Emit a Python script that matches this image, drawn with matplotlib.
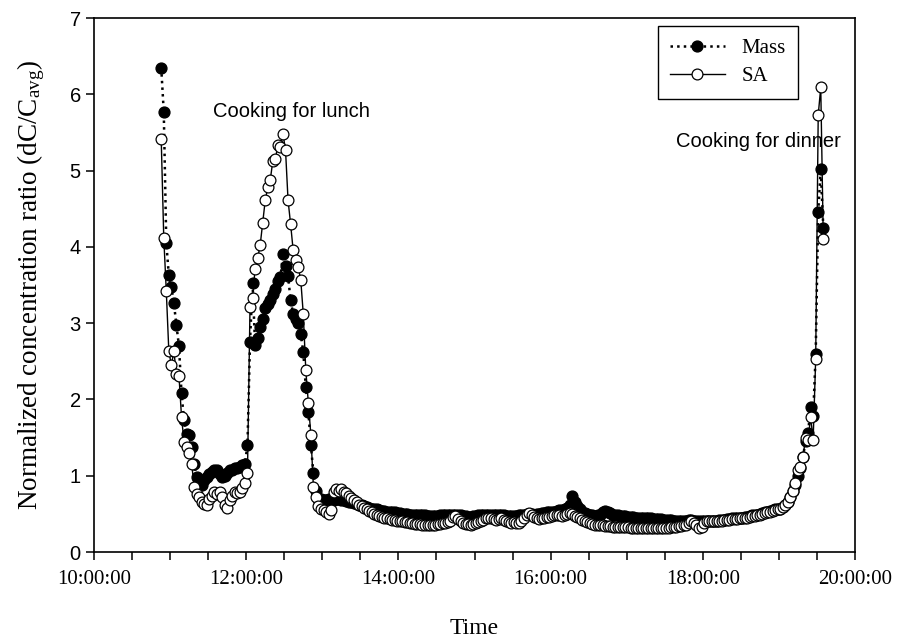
import matplotlib
matplotlib.use("Agg")
import matplotlib.pyplot as plt
import matplotlib.dates as mdates
import pandas as pd

plt.rcParams['mathtext.fontset'] = 'custom'
plt.rcParams['mathtext.rm'] = 'Liberation Serif'
plt.rcParams['mathtext.it'] = 'Liberation Serif:italic'

# sampling: every 2 min starting 10:53
start_time = "2000-01-01 10:53"
step = "2min"

# normalized mass concentration (dC/Cavg)
mass = [
    6.35, 5.77, 4.05, 3.63, 3.47, 3.26, 2.97, 2.70, 2.08, 1.73,
    1.55, 1.53, 1.37, 1.16, 0.98, 0.90, 0.88, 0.95, 0.98, 1.02,
    1.05, 1.07, 1.07, 1.02, 0.98, 1.00, 1.03, 1.07, 1.08, 1.10,
    1.10, 1.12, 1.14, 1.16,
    # lunch
    1.40, 2.75, 3.53, 2.72, 2.80, 2.95, 3.05, 3.20, 3.25, 3.30,
    3.38, 3.45, 3.55, 3.60, 3.91, 3.75, 3.62, 3.30, 3.12, 3.05,
    3.00, 2.86, 2.62, 2.16, 1.84, 1.40, 1.03, 0.80, 0.70,
    # afternoon
    0.70, 0.68, 0.68, 0.70, 0.69, 0.68, 0.70, 0.69, 0.68, 0.68,
    0.67, 0.66, 0.65, 0.64, 0.63, 0.62, 0.61, 0.60, 0.59, 0.58,
    0.57, 0.56, 0.56, 0.55, 0.54, 0.54, 0.53, 0.53, 0.52, 0.52,
    0.51, 0.51, 0.50, 0.50, 0.50, 0.49, 0.49, 0.49, 0.48, 0.48,
    0.48, 0.48, 0.47, 0.47, 0.47, 0.47, 0.47, 0.48, 0.48, 0.48,
    0.48, 0.48, 0.49, 0.49, 0.48, 0.48, 0.47, 0.47, 0.46, 0.46,
    0.47, 0.47, 0.48, 0.48, 0.48, 0.49, 0.49, 0.49, 0.48, 0.48,
    0.48, 0.48, 0.48, 0.47, 0.47, 0.47, 0.47, 0.47, 0.48, 0.48,
    0.49, 0.50, 0.50, 0.50, 0.49, 0.50, 0.50, 0.51, 0.51, 0.52,
    0.52, 0.53, 0.53, 0.54, 0.55, 0.55, 0.56, 0.58, 0.62, 0.73,
    0.66, 0.60, 0.56, 0.53, 0.51, 0.50, 0.49, 0.48, 0.47, 0.48,
    0.49, 0.52, 0.54, 0.53, 0.51, 0.49, 0.48, 0.48, 0.47, 0.47,
    0.47, 0.46, 0.46, 0.46, 0.45, 0.45, 0.45, 0.44, 0.44, 0.44,
    0.44, 0.43, 0.43, 0.43, 0.43, 0.42, 0.42, 0.42, 0.42, 0.41,
    0.41, 0.41, 0.41, 0.41, 0.41, 0.42, 0.42, 0.41, 0.40, 0.40,
    0.40, 0.40, 0.40, 0.40, 0.41, 0.41, 0.41, 0.42, 0.42, 0.42,
    0.43, 0.43, 0.44, 0.44, 0.44, 0.45, 0.45, 0.46, 0.46, 0.47,
    0.48, 0.48, 0.49, 0.50, 0.51, 0.52, 0.53, 0.54, 0.55, 0.56,
    0.56, 0.57, 0.59, 0.62, 0.66, 0.72, 0.80, 0.88, 1.00, 1.10,
    # dinner
    1.25, 1.45, 1.56, 1.90, 1.78, 2.59, 4.46, 5.02, 4.25,
]

# normalized surface area concentration (dC/Cavg)
sa = [
    5.41, 4.12, 3.42, 2.63, 2.45, 2.63, 2.33, 2.31, 1.77, 1.44,
    1.38, 1.30, 1.16, 0.85, 0.76, 0.72, 0.66, 0.63, 0.61, 0.70,
    0.74, 0.79, 0.76, 0.79, 0.72, 0.62, 0.58, 0.68, 0.74, 0.79,
    0.77, 0.79, 0.84, 0.90,
    # lunch
    1.03, 3.21, 3.33, 3.71, 3.85, 4.02, 4.31, 4.61, 4.78, 4.88,
    5.13, 5.15, 5.34, 5.31, 5.48, 5.27, 4.61, 4.30, 3.96, 3.83,
    3.73, 3.57, 3.12, 2.38, 1.95, 1.53, 0.85, 0.72, 0.60,
    # afternoon
    0.57, 0.55, 0.52, 0.50, 0.55, 0.78, 0.82, 0.80, 0.82, 0.79,
    0.77, 0.74, 0.71, 0.68, 0.65, 0.62, 0.60, 0.58, 0.56, 0.54,
    0.52, 0.50, 0.49, 0.47, 0.46, 0.45, 0.44, 0.43, 0.42, 0.42,
    0.41, 0.40, 0.40, 0.39, 0.39, 0.38, 0.38, 0.37, 0.37, 0.37,
    0.36, 0.36, 0.36, 0.35, 0.36, 0.36, 0.37, 0.37, 0.38, 0.38,
    0.39, 0.40, 0.46, 0.47, 0.43, 0.40, 0.38, 0.37, 0.37, 0.36,
    0.37, 0.38, 0.39, 0.40, 0.42, 0.44, 0.45, 0.44, 0.43, 0.42,
    0.43, 0.44, 0.42, 0.40, 0.39, 0.38, 0.39, 0.38, 0.38, 0.40,
    0.44, 0.49, 0.51, 0.49, 0.46, 0.44, 0.43, 0.44, 0.45, 0.46,
    0.46, 0.47, 0.48, 0.49, 0.48, 0.47, 0.48, 0.50, 0.51, 0.50,
    0.47, 0.46, 0.44, 0.42, 0.40, 0.39, 0.38, 0.37, 0.36, 0.36,
    0.35, 0.35, 0.34, 0.34, 0.34, 0.33, 0.33, 0.33, 0.33, 0.33,
    0.33, 0.33, 0.32, 0.32, 0.32, 0.32, 0.32, 0.32, 0.32, 0.32,
    0.32, 0.31, 0.31, 0.32, 0.32, 0.32, 0.32, 0.32, 0.33, 0.33,
    0.33, 0.34, 0.34, 0.35, 0.36, 0.38, 0.40, 0.38, 0.35, 0.32,
    0.33, 0.38, 0.41, 0.40, 0.40, 0.40, 0.41, 0.41, 0.41, 0.42,
    0.42, 0.42, 0.43, 0.43, 0.43, 0.44, 0.44, 0.45, 0.45, 0.46,
    0.47, 0.47, 0.48, 0.49, 0.50, 0.51, 0.52, 0.53, 0.54, 0.55,
    0.56, 0.57, 0.59, 0.62, 0.66, 0.72, 0.80, 0.90, 1.07, 1.12,
    # dinner
    1.25, 1.49, 1.47, 1.77, 1.47, 2.53, 5.73, 6.09, 4.10,
]

times = pd.date_range(start_time, periods=len(mass), freq=step)

fig = plt.figure(figsize=(9.01, 6.41), dpi=100)
ax = fig.add_axes([94/901, 1-552/641, 761/901, 534/641])

ax.plot(times, mass, linestyle=':', color='black', linewidth=1.8,
        marker='o', markersize=7.8, markerfacecolor='black',
        markeredgecolor='black', label='Mass')
ax.plot(times, sa, linestyle='-', color='black', linewidth=1.0,
        marker='o', markersize=7.8, markerfacecolor='white',
        markeredgecolor='black', markeredgewidth=0.9, label='SA')

ax.set_xlim(pd.Timestamp("2000-01-01 10:00"), pd.Timestamp("2000-01-01 20:00"))
ax.set_ylim(0, 7)

ax.xaxis.set_major_locator(mdates.HourLocator(byhour=range(10, 21, 2)))
ax.xaxis.set_minor_locator(mdates.MinuteLocator(byminute=[0, 30]))
ax.xaxis.set_major_formatter(mdates.DateFormatter('%H:%M:%S'))
ax.tick_params(which='both', direction='out', length=6, width=1.1,
               top=False, right=False)
ax.tick_params(axis='x', pad=7)
for lab in ax.get_xticklabels():
    lab.set_fontfamily('Liberation Serif')
    lab.set_fontsize(15)
for lab in ax.get_yticklabels():
    lab.set_fontfamily('Liberation Sans')
    lab.set_fontsize(14.5)
for sp in ax.spines.values():
    sp.set_linewidth(1.2)

ax.set_xlabel('Time', fontfamily='Liberation Serif', fontsize=17, labelpad=21)
ax.set_ylabel(r'Normalized concentration ratio (dC/C$_\mathregular{avg}$)',
              fontfamily='Liberation Serif', fontsize=19.5, labelpad=16)

ax.text(pd.Timestamp("2000-01-01 11:34"), 5.78, 'Cooking for lunch',
        fontfamily='Liberation Sans', fontsize=14.5, va='center', ha='left')
ax.text(pd.Timestamp("2000-01-01 19:49"), 5.38, 'Cooking for dinner',
        fontfamily='Liberation Sans', fontsize=14.5, va='center', ha='right')

leg = ax.legend(loc='upper right', bbox_to_anchor=(0.925, 0.985), numpoints=1,
                prop={'family': 'Liberation Serif', 'size': 15},
                fancybox=False, edgecolor='black', framealpha=1,
                borderaxespad=0, handlelength=2.6, borderpad=0.6,
                labelspacing=0.4)
leg.get_frame().set_linewidth(1.0)

fig.savefig('out.png', dpi=100)
